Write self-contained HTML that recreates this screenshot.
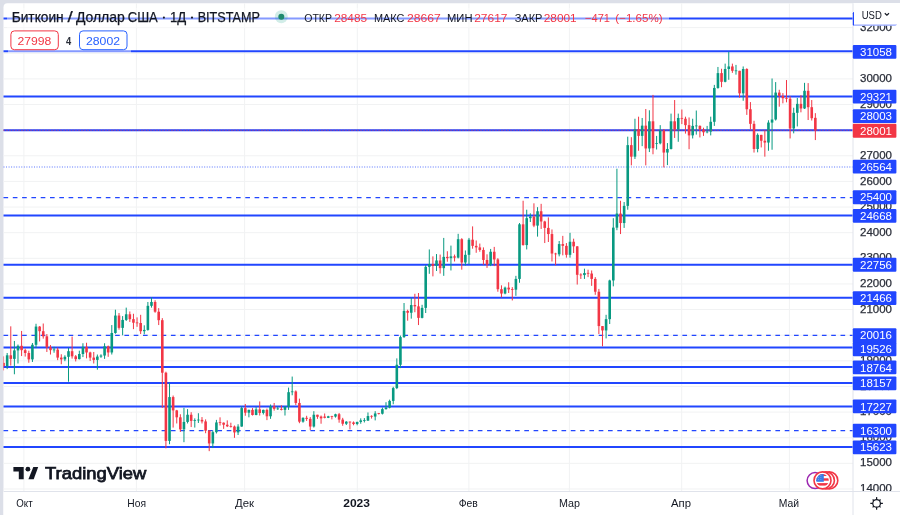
<!DOCTYPE html>
<html><head><meta charset="utf-8"><style>
html,body{margin:0;padding:0;width:900px;height:515px;overflow:hidden;background:#dcdfe8;}
svg{position:absolute;left:0;top:0;will-change:transform;}
</style></head><body>
<svg width="900" height="515" viewBox="0 0 900 515">
<defs><clipPath id="cp"><rect x="3.5" y="3.3" width="849.5" height="487.7"/></clipPath>
<clipPath id="pa"><rect x="850" y="3.3" width="50" height="487.7"/></clipPath></defs>
<rect x="0" y="0" width="900" height="515" fill="#dcdfe8"/><rect x="3.5" y="3.3" width="905" height="520" rx="4" fill="#ffffff"/><line x1="3.5" x2="853" y1="488.98" y2="488.98" stroke="#f1f2f3" stroke-width="1"/><line x1="3.5" x2="853" y1="463.35" y2="463.35" stroke="#f1f2f3" stroke-width="1"/><line x1="3.5" x2="853" y1="437.72" y2="437.72" stroke="#f1f2f3" stroke-width="1"/><line x1="3.5" x2="853" y1="412.09000000000003" y2="412.09000000000003" stroke="#f1f2f3" stroke-width="1"/><line x1="3.5" x2="853" y1="386.46000000000004" y2="386.46000000000004" stroke="#f1f2f3" stroke-width="1"/><line x1="3.5" x2="853" y1="360.83000000000004" y2="360.83000000000004" stroke="#f1f2f3" stroke-width="1"/><line x1="3.5" x2="853" y1="335.20000000000005" y2="335.20000000000005" stroke="#f1f2f3" stroke-width="1"/><line x1="3.5" x2="853" y1="309.57" y2="309.57" stroke="#f1f2f3" stroke-width="1"/><line x1="3.5" x2="853" y1="283.94" y2="283.94" stroke="#f1f2f3" stroke-width="1"/><line x1="3.5" x2="853" y1="258.31" y2="258.31" stroke="#f1f2f3" stroke-width="1"/><line x1="3.5" x2="853" y1="232.68" y2="232.68" stroke="#f1f2f3" stroke-width="1"/><line x1="3.5" x2="853" y1="207.05" y2="207.05" stroke="#f1f2f3" stroke-width="1"/><line x1="3.5" x2="853" y1="181.42000000000002" y2="181.42000000000002" stroke="#f1f2f3" stroke-width="1"/><line x1="3.5" x2="853" y1="155.79000000000002" y2="155.79000000000002" stroke="#f1f2f3" stroke-width="1"/><line x1="3.5" x2="853" y1="130.16" y2="130.16" stroke="#f1f2f3" stroke-width="1"/><line x1="3.5" x2="853" y1="104.53" y2="104.53" stroke="#f1f2f3" stroke-width="1"/><line x1="3.5" x2="853" y1="78.9" y2="78.9" stroke="#f1f2f3" stroke-width="1"/><line x1="3.5" x2="853" y1="53.27000000000001" y2="53.27000000000001" stroke="#f1f2f3" stroke-width="1"/><line x1="3.5" x2="853" y1="27.640000000000008" y2="27.640000000000008" stroke="#f1f2f3" stroke-width="1"/><line x1="23.9" x2="23.9" y1="3.3" y2="491" stroke="#f1f2f3" stroke-width="1"/><line x1="136.4" x2="136.4" y1="3.3" y2="491" stroke="#f1f2f3" stroke-width="1"/><line x1="244.6" x2="244.6" y1="3.3" y2="491" stroke="#f1f2f3" stroke-width="1"/><line x1="357.3" x2="357.3" y1="3.3" y2="491" stroke="#f1f2f3" stroke-width="1"/><line x1="468.9" x2="468.9" y1="3.3" y2="491" stroke="#f1f2f3" stroke-width="1"/><line x1="569.4" x2="569.4" y1="3.3" y2="491" stroke="#f1f2f3" stroke-width="1"/><line x1="681.7" x2="681.7" y1="3.3" y2="491" stroke="#f1f2f3" stroke-width="1"/><line x1="789.4" x2="789.4" y1="3.3" y2="491" stroke="#f1f2f3" stroke-width="1"/><line x1="3.5" x2="853" y1="18.40" y2="18.40" stroke="#2146ff" stroke-width="2"/><line x1="3.5" x2="853" y1="51.30" y2="51.30" stroke="#2146ff" stroke-width="2"/><line x1="3.5" x2="853" y1="96.40" y2="96.40" stroke="#2146ff" stroke-width="2"/><line x1="3.5" x2="853" y1="130.30" y2="130.30" stroke="#2146ff" stroke-width="2"/><line x1="3.5" x2="853" y1="167.00" y2="167.00" stroke="#2146ff" stroke-width="1.2" stroke-dasharray="1 1.54" opacity="0.75"/><line x1="3.5" x2="853" y1="197.50" y2="197.50" stroke="#2146ff" stroke-width="1.25" stroke-dasharray="4.65 4.65"/><line x1="3.5" x2="853" y1="215.50" y2="215.50" stroke="#2146ff" stroke-width="2"/><line x1="3.5" x2="853" y1="264.70" y2="264.70" stroke="#2146ff" stroke-width="2"/><line x1="3.5" x2="853" y1="297.70" y2="297.70" stroke="#2146ff" stroke-width="2"/><line x1="3.5" x2="853" y1="335.30" y2="335.30" stroke="#2146ff" stroke-width="1.25" stroke-dasharray="4.65 4.65"/><line x1="3.5" x2="853" y1="347.60" y2="347.60" stroke="#2146ff" stroke-width="2"/><line x1="3.5" x2="853" y1="367.00" y2="367.00" stroke="#2146ff" stroke-width="2"/><line x1="3.5" x2="853" y1="383.00" y2="383.00" stroke="#2146ff" stroke-width="2"/><line x1="3.5" x2="853" y1="406.50" y2="406.50" stroke="#2146ff" stroke-width="2"/><line x1="3.5" x2="853" y1="430.50" y2="430.50" stroke="#2146ff" stroke-width="1.25" stroke-dasharray="4.65 4.65"/><line x1="3.5" x2="853" y1="447.10" y2="447.10" stroke="#2146ff" stroke-width="2"/><g clip-path="url(#cp)"><rect x="3.05" y="356.32" width="1" height="14.10" fill="#f23645"/><rect x="2.25" y="362.85" width="2.6" height="3.20" fill="#f23645"/><rect x="6.66" y="352.98" width="1" height="16.15" fill="#089981"/><rect x="5.86" y="355.29" width="2.6" height="10.76" fill="#089981"/><rect x="10.27" y="326.33" width="1" height="39.21" fill="#f23645"/><rect x="9.47" y="355.29" width="2.6" height="3.59" fill="#f23645"/><rect x="13.88" y="340.94" width="1" height="33.32" fill="#089981"/><rect x="13.08" y="350.42" width="2.6" height="8.46" fill="#089981"/><rect x="17.48" y="344.53" width="1" height="18.97" fill="#089981"/><rect x="16.68" y="345.81" width="2.6" height="4.61" fill="#089981"/><rect x="21.09" y="330.94" width="1" height="25.12" fill="#f23645"/><rect x="20.29" y="345.81" width="2.6" height="4.36" fill="#f23645"/><rect x="24.70" y="348.63" width="1" height="7.95" fill="#f23645"/><rect x="23.90" y="350.17" width="2.6" height="2.82" fill="#f23645"/><rect x="28.31" y="350.68" width="1" height="12.05" fill="#f23645"/><rect x="27.51" y="352.98" width="2.6" height="6.41" fill="#f23645"/><rect x="31.92" y="342.99" width="1" height="18.97" fill="#089981"/><rect x="31.12" y="344.78" width="2.6" height="14.61" fill="#089981"/><rect x="35.52" y="323.77" width="1" height="24.35" fill="#089981"/><rect x="34.72" y="326.59" width="2.6" height="18.20" fill="#089981"/><rect x="39.13" y="326.07" width="1" height="15.38" fill="#f23645"/><rect x="38.33" y="326.59" width="2.6" height="4.61" fill="#f23645"/><rect x="42.74" y="323.51" width="1" height="15.12" fill="#f23645"/><rect x="41.94" y="331.20" width="2.6" height="5.13" fill="#f23645"/><rect x="46.35" y="334.02" width="1" height="17.94" fill="#f23645"/><rect x="45.55" y="336.33" width="2.6" height="11.02" fill="#f23645"/><rect x="49.96" y="345.04" width="1" height="9.48" fill="#f23645"/><rect x="49.16" y="347.35" width="2.6" height="2.82" fill="#f23645"/><rect x="53.56" y="346.83" width="1" height="5.89" fill="#089981"/><rect x="52.76" y="349.51" width="2.6" height="0.80" fill="#089981"/><rect x="57.17" y="347.60" width="1" height="12.56" fill="#f23645"/><rect x="56.37" y="349.65" width="2.6" height="7.95" fill="#f23645"/><rect x="60.78" y="354.27" width="1" height="10.00" fill="#f23645"/><rect x="59.98" y="357.60" width="2.6" height="1.79" fill="#f23645"/><rect x="64.39" y="355.29" width="1" height="5.89" fill="#089981"/><rect x="63.59" y="356.83" width="2.6" height="2.56" fill="#089981"/><rect x="68.00" y="347.86" width="1" height="33.83" fill="#089981"/><rect x="67.20" y="351.19" width="2.6" height="5.64" fill="#089981"/><rect x="71.60" y="336.58" width="1" height="22.04" fill="#f23645"/><rect x="70.80" y="351.19" width="2.6" height="5.13" fill="#f23645"/><rect x="75.21" y="355.04" width="1" height="6.41" fill="#f23645"/><rect x="74.41" y="356.32" width="2.6" height="2.82" fill="#f23645"/><rect x="78.82" y="350.68" width="1" height="8.71" fill="#089981"/><rect x="78.02" y="354.01" width="2.6" height="5.13" fill="#089981"/><rect x="82.43" y="343.25" width="1" height="13.84" fill="#089981"/><rect x="81.63" y="346.83" width="2.6" height="7.18" fill="#089981"/><rect x="86.04" y="342.73" width="1" height="15.63" fill="#f23645"/><rect x="85.24" y="346.83" width="2.6" height="5.64" fill="#f23645"/><rect x="89.64" y="351.70" width="1" height="9.23" fill="#f23645"/><rect x="88.84" y="352.47" width="2.6" height="5.13" fill="#f23645"/><rect x="93.25" y="351.96" width="1" height="11.53" fill="#f23645"/><rect x="92.45" y="357.60" width="2.6" height="2.31" fill="#f23645"/><rect x="96.86" y="354.52" width="1" height="15.12" fill="#089981"/><rect x="96.06" y="356.57" width="2.6" height="3.33" fill="#089981"/><rect x="100.47" y="354.27" width="1" height="3.59" fill="#089981"/><rect x="99.67" y="355.55" width="2.6" height="1.03" fill="#089981"/><rect x="104.08" y="343.25" width="1" height="15.63" fill="#089981"/><rect x="103.28" y="346.32" width="2.6" height="9.23" fill="#089981"/><rect x="107.68" y="345.55" width="1" height="11.28" fill="#f23645"/><rect x="106.88" y="346.32" width="2.6" height="6.15" fill="#f23645"/><rect x="111.29" y="325.05" width="1" height="29.47" fill="#089981"/><rect x="110.49" y="332.99" width="2.6" height="19.48" fill="#089981"/><rect x="114.90" y="309.67" width="1" height="24.09" fill="#089981"/><rect x="114.10" y="315.56" width="2.6" height="17.43" fill="#089981"/><rect x="118.51" y="313.00" width="1" height="16.66" fill="#f23645"/><rect x="117.71" y="315.56" width="2.6" height="12.30" fill="#f23645"/><rect x="122.12" y="316.08" width="1" height="19.22" fill="#089981"/><rect x="121.32" y="319.92" width="2.6" height="7.95" fill="#089981"/><rect x="125.72" y="307.62" width="1" height="13.33" fill="#089981"/><rect x="124.92" y="314.28" width="2.6" height="5.64" fill="#089981"/><rect x="129.33" y="311.46" width="1" height="10.51" fill="#f23645"/><rect x="128.53" y="314.28" width="2.6" height="4.87" fill="#f23645"/><rect x="132.94" y="313.77" width="1" height="15.38" fill="#f23645"/><rect x="132.14" y="319.15" width="2.6" height="3.59" fill="#f23645"/><rect x="136.55" y="317.36" width="1" height="9.48" fill="#f23645"/><rect x="135.75" y="322.47" width="2.6" height="0.80" fill="#f23645"/><rect x="140.16" y="314.80" width="1" height="19.22" fill="#f23645"/><rect x="139.36" y="323.00" width="2.6" height="8.20" fill="#f23645"/><rect x="143.76" y="325.30" width="1" height="8.97" fill="#089981"/><rect x="142.96" y="329.92" width="2.6" height="1.28" fill="#089981"/><rect x="147.37" y="301.98" width="1" height="28.71" fill="#089981"/><rect x="146.57" y="305.83" width="2.6" height="24.09" fill="#089981"/><rect x="150.98" y="297.37" width="1" height="10.25" fill="#089981"/><rect x="150.18" y="301.98" width="2.6" height="3.84" fill="#089981"/><rect x="154.59" y="300.19" width="1" height="12.56" fill="#f23645"/><rect x="153.79" y="301.98" width="2.6" height="9.74" fill="#f23645"/><rect x="158.20" y="308.13" width="1" height="16.92" fill="#f23645"/><rect x="157.40" y="311.72" width="2.6" height="8.46" fill="#f23645"/><rect x="161.80" y="318.13" width="1" height="89.70" fill="#f23645"/><rect x="161.00" y="320.18" width="2.6" height="52.54" fill="#f23645"/><rect x="165.41" y="371.69" width="1" height="76.63" fill="#f23645"/><rect x="164.61" y="372.72" width="2.6" height="68.18" fill="#f23645"/><rect x="169.02" y="382.72" width="1" height="61.51" fill="#089981"/><rect x="168.22" y="397.07" width="2.6" height="43.83" fill="#089981"/><rect x="172.63" y="395.53" width="1" height="32.04" fill="#f23645"/><rect x="171.83" y="397.07" width="2.6" height="13.33" fill="#f23645"/><rect x="176.24" y="409.88" width="1" height="13.58" fill="#f23645"/><rect x="175.44" y="410.40" width="2.6" height="6.92" fill="#f23645"/><rect x="179.84" y="414.24" width="1" height="17.68" fill="#f23645"/><rect x="179.04" y="417.32" width="2.6" height="12.05" fill="#f23645"/><rect x="183.45" y="407.83" width="1" height="34.34" fill="#089981"/><rect x="182.65" y="421.93" width="2.6" height="7.43" fill="#089981"/><rect x="187.06" y="409.11" width="1" height="14.35" fill="#089981"/><rect x="186.26" y="414.75" width="2.6" height="7.18" fill="#089981"/><rect x="190.67" y="412.19" width="1" height="14.87" fill="#f23645"/><rect x="189.87" y="414.75" width="2.6" height="6.15" fill="#f23645"/><rect x="194.28" y="418.34" width="1" height="9.23" fill="#089981"/><rect x="193.48" y="420.12" width="2.6" height="0.80" fill="#089981"/><rect x="197.88" y="413.22" width="1" height="9.74" fill="#089981"/><rect x="197.08" y="419.61" width="2.6" height="0.80" fill="#089981"/><rect x="201.49" y="417.06" width="1" height="6.41" fill="#f23645"/><rect x="200.69" y="419.88" width="2.6" height="1.54" fill="#f23645"/><rect x="205.10" y="419.37" width="1" height="13.84" fill="#f23645"/><rect x="204.30" y="421.42" width="2.6" height="9.23" fill="#f23645"/><rect x="208.71" y="430.13" width="1" height="21.02" fill="#f23645"/><rect x="207.91" y="430.64" width="2.6" height="12.81" fill="#f23645"/><rect x="212.32" y="430.64" width="1" height="17.43" fill="#089981"/><rect x="211.52" y="432.18" width="2.6" height="11.28" fill="#089981"/><rect x="215.92" y="419.88" width="1" height="13.58" fill="#089981"/><rect x="215.12" y="422.44" width="2.6" height="9.74" fill="#089981"/><rect x="219.53" y="417.32" width="1" height="8.20" fill="#f23645"/><rect x="218.73" y="422.17" width="2.6" height="0.80" fill="#f23645"/><rect x="223.14" y="422.44" width="1" height="6.41" fill="#f23645"/><rect x="222.34" y="422.70" width="2.6" height="2.05" fill="#f23645"/><rect x="226.75" y="420.39" width="1" height="6.66" fill="#f23645"/><rect x="225.95" y="424.75" width="2.6" height="1.54" fill="#f23645"/><rect x="230.36" y="422.70" width="1" height="4.87" fill="#f23645"/><rect x="229.56" y="426.01" width="2.6" height="0.80" fill="#f23645"/><rect x="233.96" y="425.52" width="1" height="12.30" fill="#f23645"/><rect x="233.16" y="426.54" width="2.6" height="5.89" fill="#f23645"/><rect x="237.57" y="424.24" width="1" height="10.76" fill="#089981"/><rect x="236.77" y="426.54" width="2.6" height="5.89" fill="#089981"/><rect x="241.18" y="406.30" width="1" height="20.50" fill="#089981"/><rect x="240.38" y="408.09" width="2.6" height="18.45" fill="#089981"/><rect x="244.79" y="403.99" width="1" height="11.79" fill="#f23645"/><rect x="243.99" y="408.09" width="2.6" height="4.61" fill="#f23645"/><rect x="248.40" y="409.63" width="1" height="7.69" fill="#089981"/><rect x="247.60" y="409.88" width="2.6" height="2.82" fill="#089981"/><rect x="252.00" y="408.09" width="1" height="7.43" fill="#f23645"/><rect x="251.20" y="409.88" width="2.6" height="5.13" fill="#f23645"/><rect x="255.61" y="407.06" width="1" height="8.20" fill="#089981"/><rect x="254.81" y="409.37" width="2.6" height="5.64" fill="#089981"/><rect x="259.22" y="401.43" width="1" height="14.10" fill="#f23645"/><rect x="258.42" y="409.37" width="2.6" height="3.59" fill="#f23645"/><rect x="262.83" y="409.63" width="1" height="4.87" fill="#089981"/><rect x="262.03" y="409.88" width="2.6" height="3.08" fill="#089981"/><rect x="266.44" y="408.60" width="1" height="11.53" fill="#f23645"/><rect x="265.64" y="409.88" width="2.6" height="6.41" fill="#f23645"/><rect x="270.04" y="404.50" width="1" height="14.35" fill="#089981"/><rect x="269.24" y="406.30" width="2.6" height="10.00" fill="#089981"/><rect x="273.65" y="402.96" width="1" height="7.69" fill="#f23645"/><rect x="272.85" y="406.30" width="2.6" height="2.56" fill="#f23645"/><rect x="277.26" y="406.30" width="1" height="3.59" fill="#089981"/><rect x="276.46" y="408.46" width="2.6" height="0.80" fill="#089981"/><rect x="280.87" y="405.27" width="1" height="5.13" fill="#f23645"/><rect x="280.07" y="408.86" width="2.6" height="1.03" fill="#f23645"/><rect x="284.48" y="406.04" width="1" height="9.48" fill="#089981"/><rect x="283.68" y="406.81" width="2.6" height="3.08" fill="#089981"/><rect x="288.08" y="387.59" width="1" height="22.30" fill="#089981"/><rect x="287.28" y="392.20" width="2.6" height="14.61" fill="#089981"/><rect x="291.69" y="376.56" width="1" height="18.71" fill="#089981"/><rect x="290.89" y="391.41" width="2.6" height="0.80" fill="#089981"/><rect x="295.30" y="390.40" width="1" height="14.61" fill="#f23645"/><rect x="294.50" y="391.43" width="2.6" height="11.53" fill="#f23645"/><rect x="298.91" y="398.61" width="1" height="24.60" fill="#f23645"/><rect x="298.11" y="402.96" width="2.6" height="18.71" fill="#f23645"/><rect x="302.52" y="417.32" width="1" height="5.38" fill="#089981"/><rect x="301.72" y="417.83" width="2.6" height="3.84" fill="#089981"/><rect x="306.12" y="415.78" width="1" height="5.13" fill="#f23645"/><rect x="305.32" y="417.83" width="2.6" height="1.03" fill="#f23645"/><rect x="309.73" y="417.06" width="1" height="13.07" fill="#f23645"/><rect x="308.93" y="418.85" width="2.6" height="7.69" fill="#f23645"/><rect x="313.34" y="411.16" width="1" height="16.40" fill="#089981"/><rect x="312.54" y="414.75" width="2.6" height="11.79" fill="#089981"/><rect x="316.95" y="414.75" width="1" height="4.10" fill="#f23645"/><rect x="316.15" y="414.75" width="2.6" height="2.05" fill="#f23645"/><rect x="320.56" y="415.52" width="1" height="8.20" fill="#f23645"/><rect x="319.76" y="416.55" width="2.6" height="1.79" fill="#f23645"/><rect x="324.16" y="413.47" width="1" height="4.87" fill="#f23645"/><rect x="323.36" y="416.55" width="2.6" height="1.28" fill="#f23645"/><rect x="327.77" y="415.78" width="1" height="2.31" fill="#089981"/><rect x="326.97" y="416.29" width="2.6" height="1.54" fill="#089981"/><rect x="331.38" y="415.78" width="1" height="3.59" fill="#f23645"/><rect x="330.58" y="416.02" width="2.6" height="0.80" fill="#f23645"/><rect x="334.99" y="413.73" width="1" height="3.84" fill="#089981"/><rect x="334.19" y="414.24" width="2.6" height="2.31" fill="#089981"/><rect x="338.60" y="412.96" width="1" height="9.74" fill="#f23645"/><rect x="337.80" y="414.24" width="2.6" height="5.38" fill="#f23645"/><rect x="342.20" y="417.83" width="1" height="7.95" fill="#f23645"/><rect x="341.40" y="419.62" width="2.6" height="4.10" fill="#f23645"/><rect x="345.81" y="421.16" width="1" height="3.84" fill="#089981"/><rect x="345.01" y="421.67" width="2.6" height="2.05" fill="#089981"/><rect x="349.42" y="421.42" width="1" height="7.95" fill="#f23645"/><rect x="348.62" y="421.66" width="2.6" height="0.80" fill="#f23645"/><rect x="353.03" y="421.42" width="1" height="3.84" fill="#f23645"/><rect x="352.23" y="422.44" width="2.6" height="1.54" fill="#f23645"/><rect x="356.64" y="421.67" width="1" height="3.59" fill="#089981"/><rect x="355.84" y="421.93" width="2.6" height="2.05" fill="#089981"/><rect x="360.24" y="418.34" width="1" height="5.38" fill="#089981"/><rect x="359.44" y="420.39" width="2.6" height="1.54" fill="#089981"/><rect x="363.85" y="418.08" width="1" height="4.36" fill="#089981"/><rect x="363.05" y="419.99" width="2.6" height="0.80" fill="#089981"/><rect x="367.46" y="412.45" width="1" height="8.46" fill="#089981"/><rect x="366.66" y="416.03" width="2.6" height="4.61" fill="#089981"/><rect x="371.07" y="415.27" width="1" height="3.33" fill="#f23645"/><rect x="370.27" y="415.89" width="2.6" height="0.80" fill="#f23645"/><rect x="374.68" y="411.16" width="1" height="9.23" fill="#089981"/><rect x="373.88" y="413.47" width="2.6" height="3.08" fill="#089981"/><rect x="378.28" y="412.96" width="1" height="1.54" fill="#f23645"/><rect x="377.48" y="413.20" width="2.6" height="0.80" fill="#f23645"/><rect x="381.89" y="407.58" width="1" height="6.92" fill="#089981"/><rect x="381.09" y="409.11" width="2.6" height="4.61" fill="#089981"/><rect x="385.50" y="402.19" width="1" height="7.43" fill="#089981"/><rect x="384.70" y="407.58" width="2.6" height="1.54" fill="#089981"/><rect x="389.11" y="399.63" width="1" height="8.71" fill="#089981"/><rect x="388.31" y="400.91" width="2.6" height="6.66" fill="#089981"/><rect x="392.72" y="386.82" width="1" height="17.43" fill="#089981"/><rect x="391.92" y="388.10" width="2.6" height="12.81" fill="#089981"/><rect x="396.32" y="358.37" width="1" height="30.76" fill="#089981"/><rect x="395.52" y="364.77" width="2.6" height="23.32" fill="#089981"/><rect x="399.93" y="335.56" width="1" height="32.55" fill="#089981"/><rect x="399.13" y="337.09" width="2.6" height="27.68" fill="#089981"/><rect x="403.54" y="303.01" width="1" height="34.86" fill="#089981"/><rect x="402.74" y="310.95" width="2.6" height="26.14" fill="#089981"/><rect x="407.15" y="309.67" width="1" height="11.02" fill="#f23645"/><rect x="406.35" y="310.95" width="2.6" height="1.79" fill="#f23645"/><rect x="410.76" y="297.88" width="1" height="20.76" fill="#089981"/><rect x="409.96" y="305.06" width="2.6" height="7.69" fill="#089981"/><rect x="414.36" y="293.78" width="1" height="18.45" fill="#f23645"/><rect x="413.56" y="305.06" width="2.6" height="1.28" fill="#f23645"/><rect x="417.97" y="293.01" width="1" height="32.04" fill="#f23645"/><rect x="417.17" y="306.34" width="2.6" height="11.53" fill="#f23645"/><rect x="421.58" y="304.80" width="1" height="13.58" fill="#089981"/><rect x="420.78" y="307.88" width="2.6" height="10.00" fill="#089981"/><rect x="425.19" y="265.07" width="1" height="47.93" fill="#089981"/><rect x="424.39" y="266.87" width="2.6" height="41.01" fill="#089981"/><rect x="428.80" y="249.44" width="1" height="24.35" fill="#089981"/><rect x="428.00" y="264.05" width="2.6" height="2.82" fill="#089981"/><rect x="432.40" y="256.36" width="1" height="19.99" fill="#f23645"/><rect x="431.60" y="264.05" width="2.6" height="1.79" fill="#f23645"/><rect x="436.01" y="254.05" width="1" height="16.92" fill="#089981"/><rect x="435.21" y="260.46" width="2.6" height="5.38" fill="#089981"/><rect x="439.62" y="254.57" width="1" height="18.97" fill="#f23645"/><rect x="438.82" y="260.46" width="2.6" height="7.69" fill="#f23645"/><rect x="443.23" y="237.91" width="1" height="37.93" fill="#089981"/><rect x="442.43" y="256.87" width="2.6" height="11.28" fill="#089981"/><rect x="446.84" y="251.23" width="1" height="10.51" fill="#f23645"/><rect x="446.04" y="256.87" width="2.6" height="1.28" fill="#f23645"/><rect x="450.44" y="245.59" width="1" height="24.86" fill="#089981"/><rect x="449.64" y="256.36" width="2.6" height="1.79" fill="#089981"/><rect x="454.05" y="254.57" width="1" height="6.92" fill="#f23645"/><rect x="453.25" y="256.36" width="2.6" height="1.28" fill="#f23645"/><rect x="457.66" y="233.81" width="1" height="24.60" fill="#089981"/><rect x="456.86" y="239.19" width="2.6" height="18.45" fill="#089981"/><rect x="461.27" y="238.16" width="1" height="31.52" fill="#f23645"/><rect x="460.47" y="239.19" width="2.6" height="23.32" fill="#f23645"/><rect x="464.88" y="250.46" width="1" height="15.12" fill="#089981"/><rect x="464.08" y="254.82" width="2.6" height="7.69" fill="#089981"/><rect x="468.48" y="237.91" width="1" height="26.40" fill="#089981"/><rect x="467.68" y="239.70" width="2.6" height="15.12" fill="#089981"/><rect x="472.09" y="226.37" width="1" height="22.30" fill="#f23645"/><rect x="471.29" y="239.70" width="2.6" height="6.15" fill="#f23645"/><rect x="475.70" y="240.47" width="1" height="12.30" fill="#f23645"/><rect x="474.90" y="245.85" width="2.6" height="1.54" fill="#f23645"/><rect x="479.31" y="243.54" width="1" height="8.20" fill="#f23645"/><rect x="478.51" y="247.39" width="2.6" height="2.56" fill="#f23645"/><rect x="482.92" y="247.39" width="1" height="17.43" fill="#f23645"/><rect x="482.12" y="249.95" width="2.6" height="10.00" fill="#f23645"/><rect x="486.52" y="254.31" width="1" height="13.58" fill="#f23645"/><rect x="485.72" y="259.95" width="2.6" height="4.61" fill="#f23645"/><rect x="490.13" y="248.93" width="1" height="17.17" fill="#089981"/><rect x="489.33" y="251.75" width="2.6" height="12.81" fill="#089981"/><rect x="493.74" y="246.88" width="1" height="19.22" fill="#f23645"/><rect x="492.94" y="251.75" width="2.6" height="7.69" fill="#f23645"/><rect x="497.35" y="258.15" width="1" height="33.58" fill="#f23645"/><rect x="496.55" y="259.44" width="2.6" height="29.73" fill="#f23645"/><rect x="500.96" y="285.32" width="1" height="12.05" fill="#f23645"/><rect x="500.16" y="289.17" width="2.6" height="4.36" fill="#f23645"/><rect x="504.56" y="286.60" width="1" height="7.69" fill="#089981"/><rect x="503.76" y="287.63" width="2.6" height="5.89" fill="#089981"/><rect x="508.17" y="282.25" width="1" height="10.76" fill="#f23645"/><rect x="507.37" y="287.63" width="2.6" height="1.79" fill="#f23645"/><rect x="511.78" y="287.12" width="1" height="13.33" fill="#f23645"/><rect x="510.98" y="289.15" width="2.6" height="0.80" fill="#f23645"/><rect x="515.39" y="275.84" width="1" height="19.99" fill="#089981"/><rect x="514.59" y="278.91" width="2.6" height="10.76" fill="#089981"/><rect x="519.00" y="223.04" width="1" height="59.72" fill="#089981"/><rect x="518.20" y="224.32" width="2.6" height="54.59" fill="#089981"/><rect x="522.60" y="200.74" width="1" height="44.85" fill="#f23645"/><rect x="521.80" y="224.32" width="2.6" height="20.76" fill="#f23645"/><rect x="526.21" y="209.71" width="1" height="39.73" fill="#089981"/><rect x="525.41" y="218.17" width="2.6" height="26.91" fill="#089981"/><rect x="529.82" y="213.30" width="1" height="8.71" fill="#089981"/><rect x="529.02" y="216.63" width="2.6" height="1.54" fill="#089981"/><rect x="533.43" y="203.31" width="1" height="23.84" fill="#f23645"/><rect x="532.63" y="216.63" width="2.6" height="8.97" fill="#f23645"/><rect x="537.04" y="207.15" width="1" height="29.47" fill="#089981"/><rect x="536.24" y="211.25" width="2.6" height="14.35" fill="#089981"/><rect x="540.64" y="203.82" width="1" height="25.12" fill="#f23645"/><rect x="539.84" y="211.25" width="2.6" height="10.25" fill="#f23645"/><rect x="544.25" y="220.73" width="1" height="22.30" fill="#f23645"/><rect x="543.45" y="221.50" width="2.6" height="6.41" fill="#f23645"/><rect x="547.86" y="217.40" width="1" height="24.60" fill="#f23645"/><rect x="547.06" y="227.91" width="2.6" height="6.15" fill="#f23645"/><rect x="551.47" y="229.45" width="1" height="32.04" fill="#f23645"/><rect x="550.67" y="234.06" width="2.6" height="19.48" fill="#f23645"/><rect x="555.08" y="252.77" width="1" height="12.56" fill="#f23645"/><rect x="554.28" y="253.52" width="2.6" height="0.80" fill="#f23645"/><rect x="558.68" y="240.98" width="1" height="15.38" fill="#089981"/><rect x="557.88" y="244.06" width="2.6" height="10.25" fill="#089981"/><rect x="562.29" y="235.86" width="1" height="19.48" fill="#f23645"/><rect x="561.49" y="244.06" width="2.6" height="1.79" fill="#f23645"/><rect x="565.90" y="243.03" width="1" height="14.61" fill="#f23645"/><rect x="565.10" y="245.85" width="2.6" height="8.97" fill="#f23645"/><rect x="569.51" y="232.78" width="1" height="24.86" fill="#089981"/><rect x="568.71" y="241.75" width="2.6" height="13.07" fill="#089981"/><rect x="573.12" y="238.67" width="1" height="14.35" fill="#f23645"/><rect x="572.32" y="241.75" width="2.6" height="4.61" fill="#f23645"/><rect x="576.72" y="246.11" width="1" height="38.44" fill="#f23645"/><rect x="575.92" y="246.36" width="2.6" height="28.45" fill="#f23645"/><rect x="580.33" y="273.28" width="1" height="5.64" fill="#f23645"/><rect x="579.53" y="274.54" width="2.6" height="0.80" fill="#f23645"/><rect x="583.94" y="268.66" width="1" height="10.25" fill="#089981"/><rect x="583.14" y="273.02" width="2.6" height="2.05" fill="#089981"/><rect x="587.55" y="269.69" width="1" height="7.43" fill="#f23645"/><rect x="586.75" y="272.88" width="2.6" height="0.80" fill="#f23645"/><rect x="591.16" y="270.46" width="1" height="15.38" fill="#f23645"/><rect x="590.36" y="273.53" width="2.6" height="5.38" fill="#f23645"/><rect x="594.76" y="277.12" width="1" height="17.68" fill="#f23645"/><rect x="593.96" y="278.91" width="2.6" height="12.82" fill="#f23645"/><rect x="598.37" y="288.91" width="1" height="45.11" fill="#f23645"/><rect x="597.57" y="291.73" width="2.6" height="34.34" fill="#f23645"/><rect x="601.98" y="326.07" width="1" height="20.25" fill="#f23645"/><rect x="601.18" y="326.07" width="2.6" height="4.36" fill="#f23645"/><rect x="605.59" y="314.80" width="1" height="23.58" fill="#089981"/><rect x="604.79" y="319.15" width="2.6" height="11.28" fill="#089981"/><rect x="609.20" y="279.68" width="1" height="44.34" fill="#089981"/><rect x="608.40" y="280.45" width="2.6" height="38.70" fill="#089981"/><rect x="612.80" y="218.17" width="1" height="68.18" fill="#089981"/><rect x="612.00" y="227.65" width="2.6" height="52.80" fill="#089981"/><rect x="616.41" y="168.70" width="1" height="61.51" fill="#089981"/><rect x="615.61" y="213.56" width="2.6" height="14.10" fill="#089981"/><rect x="620.02" y="200.74" width="1" height="33.32" fill="#f23645"/><rect x="619.22" y="213.56" width="2.6" height="9.48" fill="#f23645"/><rect x="623.63" y="202.02" width="1" height="25.89" fill="#089981"/><rect x="622.83" y="205.87" width="2.6" height="17.17" fill="#089981"/><rect x="627.24" y="136.67" width="1" height="73.05" fill="#089981"/><rect x="626.44" y="145.13" width="2.6" height="60.74" fill="#089981"/><rect x="630.84" y="137.18" width="1" height="28.19" fill="#f23645"/><rect x="630.04" y="145.13" width="2.6" height="11.53" fill="#f23645"/><rect x="634.45" y="118.73" width="1" height="40.24" fill="#089981"/><rect x="633.65" y="129.23" width="2.6" height="27.42" fill="#089981"/><rect x="638.06" y="116.68" width="1" height="34.09" fill="#f23645"/><rect x="637.26" y="129.23" width="2.6" height="6.66" fill="#f23645"/><rect x="641.67" y="117.96" width="1" height="28.19" fill="#089981"/><rect x="640.87" y="125.65" width="2.6" height="10.25" fill="#089981"/><rect x="645.28" y="108.99" width="1" height="56.39" fill="#f23645"/><rect x="644.48" y="125.65" width="2.6" height="22.81" fill="#f23645"/><rect x="648.88" y="110.27" width="1" height="41.78" fill="#089981"/><rect x="648.08" y="121.29" width="2.6" height="27.17" fill="#089981"/><rect x="652.49" y="94.90" width="1" height="59.40" fill="#f23645"/><rect x="651.69" y="121.29" width="2.6" height="26.91" fill="#f23645"/><rect x="656.10" y="135.90" width="1" height="13.58" fill="#089981"/><rect x="655.30" y="143.06" width="2.6" height="0.80" fill="#089981"/><rect x="659.71" y="125.13" width="1" height="19.22" fill="#089981"/><rect x="658.91" y="130.52" width="2.6" height="12.81" fill="#089981"/><rect x="663.32" y="128.98" width="1" height="38.44" fill="#f23645"/><rect x="662.52" y="130.52" width="2.6" height="22.04" fill="#f23645"/><rect x="666.92" y="143.07" width="1" height="22.04" fill="#089981"/><rect x="666.12" y="148.97" width="2.6" height="3.59" fill="#089981"/><rect x="670.53" y="113.60" width="1" height="35.88" fill="#089981"/><rect x="669.73" y="121.29" width="2.6" height="27.68" fill="#089981"/><rect x="674.14" y="100.02" width="1" height="37.93" fill="#f23645"/><rect x="673.34" y="121.29" width="2.6" height="8.20" fill="#f23645"/><rect x="677.75" y="113.60" width="1" height="28.19" fill="#089981"/><rect x="676.95" y="117.96" width="2.6" height="11.53" fill="#089981"/><rect x="681.36" y="109.50" width="1" height="14.61" fill="#f23645"/><rect x="680.56" y="117.94" width="2.6" height="0.80" fill="#f23645"/><rect x="684.96" y="116.68" width="1" height="16.92" fill="#f23645"/><rect x="684.16" y="118.73" width="2.6" height="6.41" fill="#f23645"/><rect x="688.57" y="117.44" width="1" height="31.78" fill="#f23645"/><rect x="687.77" y="125.13" width="2.6" height="10.25" fill="#f23645"/><rect x="692.18" y="118.73" width="1" height="19.74" fill="#089981"/><rect x="691.38" y="125.90" width="2.6" height="9.48" fill="#089981"/><rect x="695.79" y="110.52" width="1" height="24.09" fill="#089981"/><rect x="694.99" y="125.50" width="2.6" height="0.80" fill="#089981"/><rect x="699.40" y="125.39" width="1" height="12.05" fill="#f23645"/><rect x="698.60" y="125.90" width="2.6" height="3.59" fill="#f23645"/><rect x="703.00" y="127.70" width="1" height="8.20" fill="#f23645"/><rect x="702.20" y="129.49" width="2.6" height="2.82" fill="#f23645"/><rect x="706.61" y="125.90" width="1" height="7.43" fill="#089981"/><rect x="705.81" y="131.53" width="2.6" height="0.80" fill="#089981"/><rect x="710.22" y="116.68" width="1" height="18.71" fill="#089981"/><rect x="709.42" y="121.80" width="2.6" height="9.74" fill="#089981"/><rect x="713.83" y="84.89" width="1" height="41.01" fill="#089981"/><rect x="713.03" y="87.97" width="2.6" height="33.83" fill="#089981"/><rect x="717.44" y="66.95" width="1" height="21.79" fill="#089981"/><rect x="716.64" y="73.11" width="2.6" height="14.87" fill="#089981"/><rect x="721.04" y="68.75" width="1" height="18.45" fill="#f23645"/><rect x="720.24" y="73.11" width="2.6" height="8.71" fill="#f23645"/><rect x="724.65" y="63.62" width="1" height="18.71" fill="#089981"/><rect x="723.85" y="69.00" width="2.6" height="12.81" fill="#089981"/><rect x="728.26" y="51.83" width="1" height="27.94" fill="#089981"/><rect x="727.46" y="66.44" width="2.6" height="2.56" fill="#089981"/><rect x="731.87" y="63.62" width="1" height="9.23" fill="#f23645"/><rect x="731.07" y="66.44" width="2.6" height="4.36" fill="#f23645"/><rect x="735.48" y="64.90" width="1" height="9.74" fill="#089981"/><rect x="734.68" y="70.40" width="2.6" height="0.80" fill="#089981"/><rect x="739.08" y="70.80" width="1" height="26.91" fill="#f23645"/><rect x="738.28" y="70.80" width="2.6" height="22.55" fill="#f23645"/><rect x="742.69" y="66.44" width="1" height="34.34" fill="#089981"/><rect x="741.89" y="69.00" width="2.6" height="24.35" fill="#089981"/><rect x="746.30" y="68.24" width="1" height="46.65" fill="#f23645"/><rect x="745.50" y="69.00" width="2.6" height="40.24" fill="#f23645"/><rect x="749.91" y="102.07" width="1" height="27.42" fill="#f23645"/><rect x="749.11" y="109.24" width="2.6" height="14.61" fill="#f23645"/><rect x="753.52" y="120.78" width="1" height="31.78" fill="#f23645"/><rect x="752.72" y="123.85" width="2.6" height="25.12" fill="#f23645"/><rect x="757.12" y="133.34" width="1" height="18.97" fill="#089981"/><rect x="756.32" y="134.87" width="2.6" height="14.10" fill="#089981"/><rect x="760.73" y="134.87" width="1" height="12.56" fill="#f23645"/><rect x="759.93" y="134.87" width="2.6" height="5.89" fill="#f23645"/><rect x="764.34" y="130.26" width="1" height="26.40" fill="#f23645"/><rect x="763.54" y="140.77" width="2.6" height="1.79" fill="#f23645"/><rect x="767.95" y="120.26" width="1" height="30.50" fill="#089981"/><rect x="767.15" y="122.57" width="2.6" height="19.99" fill="#089981"/><rect x="771.56" y="78.49" width="1" height="71.25" fill="#089981"/><rect x="770.76" y="119.50" width="2.6" height="3.08" fill="#089981"/><rect x="775.16" y="82.08" width="1" height="38.45" fill="#089981"/><rect x="774.36" y="92.58" width="2.6" height="26.91" fill="#089981"/><rect x="778.77" y="89.76" width="1" height="16.92" fill="#f23645"/><rect x="777.97" y="92.58" width="2.6" height="3.33" fill="#f23645"/><rect x="782.38" y="93.10" width="1" height="10.25" fill="#f23645"/><rect x="781.58" y="95.92" width="2.6" height="2.31" fill="#f23645"/><rect x="785.99" y="80.03" width="1" height="22.30" fill="#f23645"/><rect x="785.19" y="98.08" width="2.6" height="0.80" fill="#f23645"/><rect x="789.60" y="96.17" width="1" height="42.29" fill="#f23645"/><rect x="788.80" y="98.74" width="2.6" height="29.73" fill="#f23645"/><rect x="793.20" y="107.71" width="1" height="25.63" fill="#089981"/><rect x="792.40" y="112.83" width="2.6" height="15.63" fill="#089981"/><rect x="796.81" y="97.97" width="1" height="28.45" fill="#089981"/><rect x="796.01" y="103.86" width="2.6" height="8.97" fill="#089981"/><rect x="800.42" y="95.15" width="1" height="17.17" fill="#f23645"/><rect x="799.62" y="103.86" width="2.6" height="4.61" fill="#f23645"/><rect x="804.03" y="82.84" width="1" height="26.14" fill="#089981"/><rect x="803.23" y="90.79" width="2.6" height="17.68" fill="#089981"/><rect x="807.64" y="83.10" width="1" height="36.91" fill="#f23645"/><rect x="806.84" y="90.79" width="2.6" height="16.40" fill="#f23645"/><rect x="811.24" y="100.02" width="1" height="20.50" fill="#f23645"/><rect x="810.44" y="107.19" width="2.6" height="11.02" fill="#f23645"/><rect x="814.85" y="113.16" width="1" height="26.91" fill="#f23645"/><rect x="814.05" y="117.83" width="2.6" height="12.40" fill="#f23645"/></g><line x1="3.5" x2="853" y1="130.23" y2="130.23" stroke="#f23645" stroke-width="1" stroke-dasharray="1 2"/><rect x="7" y="8" width="662" height="20" fill="#fff" opacity="0.45"/><rect x="8" y="28" width="123" height="25" fill="#fff" opacity="0.45"/><text x="11.70" y="21.90" font-family="Liberation Sans, Arial, sans-serif" font-size="14" fill="#131722" textLength="52.00" lengthAdjust="spacingAndGlyphs" stroke="#131722" stroke-width="0.25">Биткоин</text><text x="67.60" y="21.90" font-family="Liberation Sans, Arial, sans-serif" font-size="14" fill="#131722" textLength="5.20" lengthAdjust="spacingAndGlyphs" stroke="#131722" stroke-width="0.25">/</text><text x="75.90" y="21.90" font-family="Liberation Sans, Arial, sans-serif" font-size="14" fill="#131722" textLength="48.90" lengthAdjust="spacingAndGlyphs" stroke="#131722" stroke-width="0.25">Доллар</text><text x="127.80" y="21.90" font-family="Liberation Sans, Arial, sans-serif" font-size="14" fill="#131722" textLength="30.00" lengthAdjust="spacingAndGlyphs" stroke="#131722" stroke-width="0.25">США</text><text x="170.00" y="21.90" font-family="Liberation Sans, Arial, sans-serif" font-size="14" fill="#131722" textLength="16.30" lengthAdjust="spacingAndGlyphs" stroke="#131722" stroke-width="0.25">1Д</text><text x="197.70" y="21.90" font-family="Liberation Sans, Arial, sans-serif" font-size="14" fill="#131722" textLength="62.20" lengthAdjust="spacingAndGlyphs" stroke="#131722" stroke-width="0.25">BITSTAMP</text><circle cx="163.9" cy="17.6" r="1.05" fill="#131722"/><circle cx="192.0" cy="17.6" r="1.05" fill="#131722"/><circle cx="281.3" cy="16.7" r="6.5" fill="#089981" opacity="0.18"/><circle cx="281.3" cy="16.7" r="3" fill="#1e8a6e"/><text x="304.20" y="21.80" font-family="Liberation Sans, Arial, sans-serif" font-size="11.7" fill="#131722" textLength="27.80" lengthAdjust="spacingAndGlyphs">ОТКР</text><text x="334.20" y="21.80" font-family="Liberation Sans, Arial, sans-serif" font-size="11.7" fill="#f23645" textLength="32.90" lengthAdjust="spacingAndGlyphs">28485</text><text x="374.00" y="21.80" font-family="Liberation Sans, Arial, sans-serif" font-size="11.7" fill="#131722" textLength="30.50" lengthAdjust="spacingAndGlyphs">МАКС</text><text x="407.00" y="21.80" font-family="Liberation Sans, Arial, sans-serif" font-size="11.7" fill="#f23645" textLength="33.80" lengthAdjust="spacingAndGlyphs">28667</text><text x="447.00" y="21.80" font-family="Liberation Sans, Arial, sans-serif" font-size="11.7" fill="#131722" textLength="25.50" lengthAdjust="spacingAndGlyphs">МИН</text><text x="474.20" y="21.80" font-family="Liberation Sans, Arial, sans-serif" font-size="11.7" fill="#f23645" textLength="33.30" lengthAdjust="spacingAndGlyphs">27617</text><text x="514.70" y="21.80" font-family="Liberation Sans, Arial, sans-serif" font-size="11.7" fill="#131722" textLength="27.80" lengthAdjust="spacingAndGlyphs">ЗАКР</text><text x="543.70" y="21.80" font-family="Liberation Sans, Arial, sans-serif" font-size="11.7" fill="#f23645" textLength="33.00" lengthAdjust="spacingAndGlyphs">28001</text><text x="585.00" y="21.80" font-family="Liberation Sans, Arial, sans-serif" font-size="11.7" fill="#f23645" textLength="25.00" lengthAdjust="spacingAndGlyphs">−471</text><text x="615.30" y="21.80" font-family="Liberation Sans, Arial, sans-serif" font-size="11.7" fill="#f23645" textLength="47.20" lengthAdjust="spacingAndGlyphs">(−1.65%)</text><rect x="10.9" y="30.9" width="47.4" height="18.8" rx="3.5" fill="#fff" stroke="#f23645" stroke-width="1"/><text x="17.40" y="44.90" font-family="Liberation Sans, Arial, sans-serif" font-size="11.6" fill="#f23645" textLength="33.90" lengthAdjust="spacingAndGlyphs">27998</text><text x="66.00" y="44.90" font-family="Liberation Sans, Arial, sans-serif" font-size="10.8" fill="#2a2e39" textLength="5.20" lengthAdjust="spacingAndGlyphs" font-weight="bold">4</text><rect x="79.5" y="30.9" width="47.5" height="18.8" rx="3.5" fill="#fff" stroke="#2962ff" stroke-width="1"/><text x="86.00" y="44.90" font-family="Liberation Sans, Arial, sans-serif" font-size="11.6" fill="#2962ff" textLength="34.00" lengthAdjust="spacingAndGlyphs">28002</text><path d="M13.4 466.9 H23.7 V479.3 H18.8 V471.6 H13.4 Z" fill="#131722"/><circle cx="27.9" cy="469.2" r="2.4" fill="#131722"/><path d="M33.3 466.9 H38.2 L33.7 479.3 H28.4 Z" fill="#131722"/><text x="45.00" y="478.80" font-family="Liberation Sans, Arial, sans-serif" font-size="16.6" fill="#131722" textLength="101.30" lengthAdjust="spacingAndGlyphs" stroke="#131722" stroke-width="0.75">TradingView</text><circle cx="815.1" cy="480.6" r="8" fill="#fff" stroke="#9c27b0" stroke-width="1.5"/><circle cx="829.3" cy="480.4" r="8.5" fill="#fff" stroke="#f23645" stroke-width="1.6"/><circle cx="825.9" cy="480.4" r="8.5" fill="#fff" stroke="#f23645" stroke-width="1.6"/><circle cx="822.5" cy="480.4" r="8.5" fill="#fff" stroke="#f23645" stroke-width="1.6"/><clipPath id="fl"><circle cx="822.5" cy="480.4" r="6.3"/></clipPath><g clip-path="url(#fl)"><rect x="815" y="473" width="15" height="15" fill="#fff"/><rect x="815" y="473.6" width="15" height="2.4" fill="#f23645"/><rect x="815" y="478.3" width="15" height="2.4" fill="#f23645"/><rect x="815" y="483.1" width="15" height="2.5" fill="#f23645"/><rect x="815" y="473" width="8.8" height="8.8" fill="#3b7de6"/><circle cx="816.3" cy="475.2" r="0.45" fill="#a9c6f5"/><circle cx="816.3" cy="477.4" r="0.45" fill="#a9c6f5"/><circle cx="816.3" cy="479.6" r="0.45" fill="#a9c6f5"/><circle cx="818.6" cy="475.2" r="0.45" fill="#a9c6f5"/><circle cx="818.6" cy="477.4" r="0.45" fill="#a9c6f5"/><circle cx="818.6" cy="479.6" r="0.45" fill="#a9c6f5"/><circle cx="820.9" cy="475.2" r="0.45" fill="#a9c6f5"/><circle cx="820.9" cy="477.4" r="0.45" fill="#a9c6f5"/><circle cx="820.9" cy="479.6" r="0.45" fill="#a9c6f5"/></g><rect x="3.5" y="491" width="900" height="30" fill="#fff"/><line x1="3.5" x2="900" y1="491.5" y2="491.5" stroke="#e0e3eb" stroke-width="1"/><text x="16.30" y="507.30" font-family="Liberation Sans, Arial, sans-serif" font-size="10.8" fill="#131722" textLength="16.30" lengthAdjust="spacingAndGlyphs">Окт</text><text x="127.30" y="507.30" font-family="Liberation Sans, Arial, sans-serif" font-size="10.8" fill="#131722" textLength="18.70" lengthAdjust="spacingAndGlyphs">Ноя</text><text x="235.00" y="507.30" font-family="Liberation Sans, Arial, sans-serif" font-size="10.8" fill="#131722" textLength="19.00" lengthAdjust="spacingAndGlyphs">Дек</text><text x="343.25" y="507.30" font-family="Liberation Sans, Arial, sans-serif" font-size="10.8" fill="#131722" textLength="26.75" lengthAdjust="spacingAndGlyphs" font-weight="bold">2023</text><text x="458.70" y="507.30" font-family="Liberation Sans, Arial, sans-serif" font-size="10.8" fill="#131722" textLength="19.10" lengthAdjust="spacingAndGlyphs">Фев</text><text x="559.00" y="507.30" font-family="Liberation Sans, Arial, sans-serif" font-size="10.8" fill="#131722" textLength="21.00" lengthAdjust="spacingAndGlyphs">Мар</text><text x="671.00" y="507.30" font-family="Liberation Sans, Arial, sans-serif" font-size="10.8" fill="#131722" textLength="20.00" lengthAdjust="spacingAndGlyphs">Апр</text><text x="778.70" y="507.30" font-family="Liberation Sans, Arial, sans-serif" font-size="10.8" fill="#131722" textLength="20.30" lengthAdjust="spacingAndGlyphs">Май</text><rect x="853" y="3.3" width="50" height="487.7" fill="#fff"/><line x1="853" x2="853" y1="3.3" y2="515" stroke="#e0e3eb" stroke-width="1"/><g clip-path="url(#pa)"><text x="892.00" y="492.08" font-family="Liberation Sans, Arial, sans-serif" font-size="11.5" fill="#2a2e39" text-anchor="end" stroke="#2a2e39" stroke-width="0.25">14000</text><text x="892.00" y="466.45" font-family="Liberation Sans, Arial, sans-serif" font-size="11.5" fill="#2a2e39" text-anchor="end" stroke="#2a2e39" stroke-width="0.25">15000</text><text x="892.00" y="440.82" font-family="Liberation Sans, Arial, sans-serif" font-size="11.5" fill="#2a2e39" text-anchor="end" stroke="#2a2e39" stroke-width="0.25">16000</text><text x="892.00" y="415.19" font-family="Liberation Sans, Arial, sans-serif" font-size="11.5" fill="#2a2e39" text-anchor="end" stroke="#2a2e39" stroke-width="0.25">17000</text><text x="892.00" y="389.56" font-family="Liberation Sans, Arial, sans-serif" font-size="11.5" fill="#2a2e39" text-anchor="end" stroke="#2a2e39" stroke-width="0.25">18000</text><text x="892.00" y="363.93" font-family="Liberation Sans, Arial, sans-serif" font-size="11.5" fill="#2a2e39" text-anchor="end" stroke="#2a2e39" stroke-width="0.25">19000</text><text x="892.00" y="338.30" font-family="Liberation Sans, Arial, sans-serif" font-size="11.5" fill="#2a2e39" text-anchor="end" stroke="#2a2e39" stroke-width="0.25">20000</text><text x="892.00" y="312.67" font-family="Liberation Sans, Arial, sans-serif" font-size="11.5" fill="#2a2e39" text-anchor="end" stroke="#2a2e39" stroke-width="0.25">21000</text><text x="892.00" y="287.04" font-family="Liberation Sans, Arial, sans-serif" font-size="11.5" fill="#2a2e39" text-anchor="end" stroke="#2a2e39" stroke-width="0.25">22000</text><text x="892.00" y="261.41" font-family="Liberation Sans, Arial, sans-serif" font-size="11.5" fill="#2a2e39" text-anchor="end" stroke="#2a2e39" stroke-width="0.25">23000</text><text x="892.00" y="235.78" font-family="Liberation Sans, Arial, sans-serif" font-size="11.5" fill="#2a2e39" text-anchor="end" stroke="#2a2e39" stroke-width="0.25">24000</text><text x="892.00" y="210.15" font-family="Liberation Sans, Arial, sans-serif" font-size="11.5" fill="#2a2e39" text-anchor="end" stroke="#2a2e39" stroke-width="0.25">25000</text><text x="892.00" y="184.52" font-family="Liberation Sans, Arial, sans-serif" font-size="11.5" fill="#2a2e39" text-anchor="end" stroke="#2a2e39" stroke-width="0.25">26000</text><text x="892.00" y="158.89" font-family="Liberation Sans, Arial, sans-serif" font-size="11.5" fill="#2a2e39" text-anchor="end" stroke="#2a2e39" stroke-width="0.25">27000</text><text x="892.00" y="133.26" font-family="Liberation Sans, Arial, sans-serif" font-size="11.5" fill="#2a2e39" text-anchor="end" stroke="#2a2e39" stroke-width="0.25">28000</text><text x="892.00" y="107.63" font-family="Liberation Sans, Arial, sans-serif" font-size="11.5" fill="#2a2e39" text-anchor="end" stroke="#2a2e39" stroke-width="0.25">29000</text><text x="892.00" y="82.00" font-family="Liberation Sans, Arial, sans-serif" font-size="11.5" fill="#2a2e39" text-anchor="end" stroke="#2a2e39" stroke-width="0.25">30000</text><text x="892.00" y="56.37" font-family="Liberation Sans, Arial, sans-serif" font-size="11.5" fill="#2a2e39" text-anchor="end" stroke="#2a2e39" stroke-width="0.25">31000</text><text x="892.00" y="30.74" font-family="Liberation Sans, Arial, sans-serif" font-size="11.5" fill="#2a2e39" text-anchor="end" stroke="#2a2e39" stroke-width="0.25">32000</text><rect x="852.8" y="44.95" width="43.6" height="13.8" rx="1" fill="#2146ff"/><rect x="852.8" y="89.80" width="43.6" height="13.8" rx="1" fill="#2146ff"/><rect x="852.8" y="109.30" width="43.6" height="13.8" rx="1" fill="#2146ff"/><rect x="852.8" y="159.80" width="43.6" height="13.8" rx="1" fill="#2146ff"/><rect x="852.8" y="190.35" width="43.6" height="13.8" rx="1" fill="#2146ff"/><rect x="852.8" y="209.00" width="43.6" height="13.8" rx="1" fill="#2146ff"/><rect x="852.8" y="257.85" width="43.6" height="13.8" rx="1" fill="#2146ff"/><rect x="852.8" y="291.20" width="43.6" height="13.8" rx="1" fill="#2146ff"/><rect x="852.8" y="328.3" width="43.6" height="15" rx="1" fill="#2146ff"/><rect x="852.8" y="342.2" width="43.6" height="14.1" rx="1" fill="#2146ff"/><rect x="852.8" y="360.50" width="43.6" height="13.8" rx="1" fill="#2146ff"/><rect x="852.8" y="376.40" width="43.6" height="13.8" rx="1" fill="#2146ff"/><rect x="852.8" y="399.50" width="43.6" height="13.8" rx="1" fill="#2146ff"/><rect x="852.8" y="423.70" width="43.6" height="13.8" rx="1" fill="#2146ff"/><rect x="852.8" y="440.40" width="43.6" height="13.8" rx="1" fill="#2146ff"/><text x="892.00" y="55.95" font-family="Liberation Sans, Arial, sans-serif" font-size="11.5" fill="#fff" text-anchor="end">31058</text><text x="892.00" y="100.80" font-family="Liberation Sans, Arial, sans-serif" font-size="11.5" fill="#fff" text-anchor="end">29321</text><text x="892.00" y="120.30" font-family="Liberation Sans, Arial, sans-serif" font-size="11.5" fill="#fff" text-anchor="end">28003</text><text x="892.00" y="170.80" font-family="Liberation Sans, Arial, sans-serif" font-size="11.5" fill="#fff" text-anchor="end">26564</text><text x="892.00" y="201.35" font-family="Liberation Sans, Arial, sans-serif" font-size="11.5" fill="#fff" text-anchor="end">25400</text><text x="892.00" y="220.00" font-family="Liberation Sans, Arial, sans-serif" font-size="11.5" fill="#fff" text-anchor="end">24668</text><text x="892.00" y="268.85" font-family="Liberation Sans, Arial, sans-serif" font-size="11.5" fill="#fff" text-anchor="end">22756</text><text x="892.00" y="302.20" font-family="Liberation Sans, Arial, sans-serif" font-size="11.5" fill="#fff" text-anchor="end">21466</text><text x="892.00" y="339.20" font-family="Liberation Sans, Arial, sans-serif" font-size="11.5" fill="#fff" text-anchor="end">20016</text><text x="892.00" y="353.30" font-family="Liberation Sans, Arial, sans-serif" font-size="11.5" fill="#fff" text-anchor="end">19526</text><text x="892.00" y="371.50" font-family="Liberation Sans, Arial, sans-serif" font-size="11.5" fill="#fff" text-anchor="end">18764</text><text x="892.00" y="387.40" font-family="Liberation Sans, Arial, sans-serif" font-size="11.5" fill="#fff" text-anchor="end">18157</text><text x="892.00" y="410.50" font-family="Liberation Sans, Arial, sans-serif" font-size="11.5" fill="#fff" text-anchor="end">17227</text><text x="892.00" y="434.70" font-family="Liberation Sans, Arial, sans-serif" font-size="11.5" fill="#fff" text-anchor="end">16300</text><text x="892.00" y="451.40" font-family="Liberation Sans, Arial, sans-serif" font-size="11.5" fill="#fff" text-anchor="end">15623</text><rect x="852.8" y="123.8" width="43.6" height="13.9" rx="1" fill="#f23645"/><text x="892.00" y="134.55" font-family="Liberation Sans, Arial, sans-serif" font-size="11.5" fill="#fff" text-anchor="end">28001</text></g><rect x="852.8" y="11.7" width="43.6" height="14" rx="1.5" fill="#2146ff"/><rect x="854" y="3.3" width="46" height="21.2" fill="#fff"/><rect x="854" y="24.2" width="42" height="1.6" fill="#fff" opacity="0.65"/><text x="861.70" y="18.70" font-family="Liberation Sans, Arial, sans-serif" font-size="10.5" fill="#131722" textLength="20.10" lengthAdjust="spacingAndGlyphs">USD</text><path d="M884.8 13.3 L886.9 15.2 L889 13.3" fill="none" stroke="#131722" stroke-width="1.2"/><g transform="translate(876.6 503.4)" fill="none" stroke="#131722" stroke-width="1.25"><circle r="3.8"/><line x1="3.80" y1="0.00" x2="6.30" y2="0.00"/><line x1="2.69" y1="2.69" x2="3.96" y2="3.96"/><line x1="0.00" y1="3.80" x2="0.00" y2="6.30"/><line x1="-2.69" y1="2.69" x2="-3.96" y2="3.96"/><line x1="-3.80" y1="0.00" x2="-6.30" y2="0.00"/><line x1="-2.69" y1="-2.69" x2="-3.96" y2="-3.96"/><line x1="-0.00" y1="-3.80" x2="-0.00" y2="-6.30"/><line x1="2.69" y1="-2.69" x2="3.96" y2="-3.96"/></g>
</svg>
</body></html>
